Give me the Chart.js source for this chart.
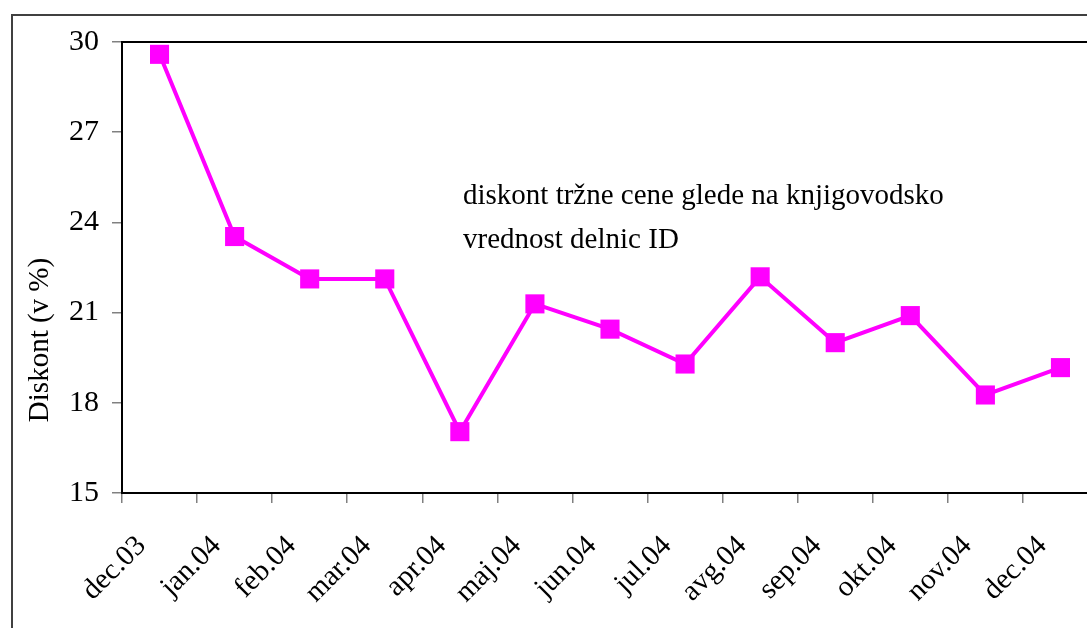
<!DOCTYPE html>
<html>
<head>
<meta charset="utf-8">
<script src="https://cdn.jsdelivr.net/npm/chart.js@4.4.1/dist/chart.umd.min.js"></script>
<style>
  html, body { margin: 0; padding: 0; background: #ffffff; overflow: hidden; width: 1087px; height: 628px; }
  #c { position: absolute; left: 0; top: 0; }
</style>
</head>
<body>
<canvas id="c" width="1140" height="628"></canvas>
<script>
const categories = ["dec.03", "jan.04", "feb.04", "mar.04", "apr.04", "maj.04", "jun.04", "jul.04", "avg.04", "sep.04", "okt.04", "nov.04", "dec.04"];
const discountValues = [29.59, 23.53, 22.12, 22.12, 17.04, 21.29, 20.45, 19.29, 22.19, 20.0, 20.9, 18.26, 19.17];
const yTicks = [15, 18, 21, 24, 27, 30];
const yTitle = "Diskont (v %)";
const annotationLines = ["diskont tržne cene glede na knjigovodsko", "vrednost delnic ID"];

const FONT = "'Liberation Serif', 'Times New Roman', serif";

const decorPlugin = {
  id: 'decor',
  beforeDraw(chart) {
    const ctx = chart.ctx;
    ctx.save();
    ctx.fillStyle = '#ffffff';
    ctx.fillRect(0, 0, chart.width, chart.height);
    ctx.strokeStyle = '#404040';
    ctx.lineWidth = 2;
    ctx.strokeRect(12, 15, chart.width + 50, chart.height + 50);
    ctx.restore();
  },
  afterDatasetsDraw(chart) {
    const ctx = chart.ctx;
    const a = chart.chartArea;
    ctx.save();
    ctx.strokeStyle = '#000000';
    ctx.lineWidth = 2;
    ctx.beginPath();
    ctx.moveTo(a.left, a.top);
    ctx.lineTo(a.right + 10, a.top);
    ctx.stroke();
    // annotation text
    ctx.fillStyle = '#000000';
    ctx.font = "29px " + FONT;
    ctx.textBaseline = 'middle';
    ctx.textAlign = 'left';
    ctx.fillText(annotationLines[0], 463, 196);
    ctx.fillText(annotationLines[1], 463, 240);
    // y axis title
    ctx.translate(40, 340);
    ctx.rotate(-Math.PI / 2);
    ctx.textAlign = 'center';
    ctx.font = "29px " + FONT;
    ctx.fillText(yTitle, 0, 0);
    ctx.restore();
  }
};

new Chart(document.getElementById('c'), {
  type: 'line',
  data: {
    labels: categories,
    datasets: [{
      data: discountValues,
      borderColor: '#FF00FF',
      backgroundColor: '#FF00FF',
      borderWidth: 4,
      tension: 0,
      pointStyle: 'rect',
      pointRadius: 13.5,
      pointHoverRadius: 13.5,
      pointBorderWidth: 0,
      pointBackgroundColor: '#FF00FF',
      clip: false
    }]
  },
  options: {
    responsive: false,
    animation: false,
    devicePixelRatio: 1,
    layout: { padding: { left: 12, top: 42, right: 42, bottom: 0 } },
    plugins: { legend: { display: false }, tooltip: { enabled: false }, title: { display: false } },
    scales: {
      x: {
        type: 'category',
        offset: true,
        grid: { offset: true, drawOnChartArea: false, drawTicks: true, tickLength: 10, color: '#808080', lineWidth: 1.5 },
        border: { display: true, color: '#000000', width: 2 },
        ticks: {
          color: '#000000',
          font: { family: FONT, size: 29 },
          minRotation: 45,
          maxRotation: 45,
          autoSkip: false,
          padding: 26,
          labelOffset: -18
        },
        afterFit(scale) { scale.height = 135; }
      },
      y: {
        min: 15,
        max: 30,
        afterBuildTicks(scale) { scale.ticks = yTicks.map(v => ({ value: v })); },
        grid: { drawOnChartArea: false, drawTicks: true, tickLength: 10, color: '#808080', lineWidth: 1.5 },
        border: { display: true, color: '#000000', width: 2 },
        ticks: {
          color: '#000000',
          font: { family: FONT, size: 30 },
          padding: 13
        },
        afterFit(scale) { scale.width = 110; }
      }
    }
  },
  plugins: [decorPlugin]
});
</script>
</body>
</html>
